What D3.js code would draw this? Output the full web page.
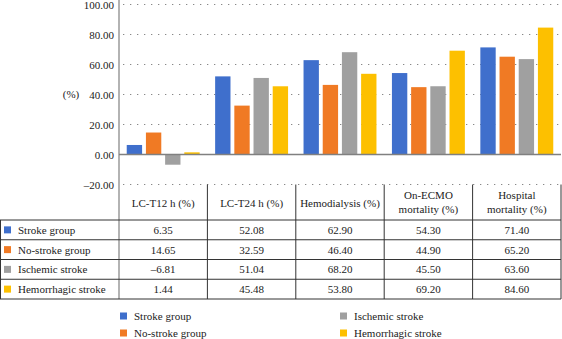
<!DOCTYPE html>
<html><head><meta charset="utf-8">
<script src="https://cdn.jsdelivr.net/npm/d3@7"></script>
<style>body{margin:0;background:#fff}svg{display:block}</style>
</head><body><svg id="c" width="562" height="339"></svg>
<script>
const categories = ["LC-T12 h (%)", "LC-T24 h (%)", "Hemodialysis (%)", "On-ECMO mortality (%)", "Hospital mortality (%)"];
const headerLines = [["LC-T12 h (%)"], ["LC-T24 h (%)"], ["Hemodialysis (%)"], ["On-ECMO", "mortality (%)"], ["Hospital", "mortality (%)"]];
const seriesNames = ["Stroke group", "No-stroke group", "Ischemic stroke", "Hemorrhagic stroke"];
const strokeGroup = [6.35, 52.08, 62.90, 54.30, 71.40];
const noStrokeGroup = [14.65, 32.59, 46.40, 44.90, 65.20];
const ischemicStroke = [-6.81, 51.04, 68.20, 45.50, 63.60];
const hemorrhagicStroke = [1.44, 45.48, 53.80, 69.20, 84.60];
const tableLabels = [["6.35","14.65","–6.81","1.44"],["52.08","32.59","51.04","45.48"],["62.90","46.40","68.20","53.80"],["54.30","44.90","45.50","69.20"],["71.40","65.20","63.60","84.60"]];
const yTicks = [-20, 0, 20, 40, 60, 80, 100];
const colors = ["#3f6fcc", "#f07a24", "#a0a0a0", "#fdc000"];
const seriesValues = [strokeGroup, noStrokeGroup, ischemicStroke, hemorrhagicStroke];

const FONT = "Liberation Serif, DejaVu Serif, Times, serif";
const FS = 11;
const svg = d3.select("#c").style("font-family", FONT);
const L = 119, R = 561;
const y = d3.scaleLinear().domain([-20, 100]).range([184.5, 4.5]);
const x0 = d3.scaleBand().domain(categories).range([L, R]).paddingInner(0.175).paddingOuter(0.0875);
const x1 = d3.scaleBand().domain(seriesNames).range([0, x0.bandwidth()]).paddingInner(0.2);
const xc = d3.scaleBand().domain(categories).range([L, R]);

svg.append("g").selectAll("line").data(yTicks.filter(d => d !== 0)).join("line")
  .attr("x1", L + 4).attr("x2", R).attr("y1", d => y(d)).attr("y2", d => y(d))
  .attr("stroke", "#888").attr("stroke-width", 1.2).attr("stroke-dasharray", "1.3,5.7");

const ya = svg.append("g").attr("transform", `translate(${L},0)`)
  .call(d3.axisLeft(y).tickValues(yTicks).tickFormat(d => (d < 0 ? "–" + d3.format(".2f")(-d) : d3.format(".2f")(d))).tickSize(0).tickPadding(5));
ya.select(".domain").remove();
ya.attr("font-family", null).attr("font-size", FS);
ya.selectAll("text").attr("fill", "#222").style("font-family", FONT);
svg.append("text").attr("x", 71).attr("y", 98).attr("text-anchor", "middle").style("font-family", FONT).attr("font-size", FS).attr("fill", "#222").text("(%)");

const rows = [];
categories.forEach((c, i) => seriesNames.forEach((s, j) => rows.push({c, s, v: seriesValues[j][i], j})));
svg.append("g").selectAll("rect").data(rows).join("rect")
  .attr("x", d => x0(d.c) + x1(d.s)).attr("width", x1.bandwidth())
  .attr("y", d => y(Math.max(0, d.v))).attr("height", d => Math.abs(y(d.v) - y(0)))
  .attr("fill", d => colors[d.j]);

svg.append("line").attr("x1", L).attr("x2", R).attr("y1", y(0)).attr("y2", y(0)).attr("stroke", "#808080").attr("stroke-width", 1.5);
svg.append("line").attr("x1", L).attr("x2", L).attr("y1", 0).attr("y2", 299).attr("stroke", "#808080").attr("stroke-width", 1.2);

const tTop = y(-20), hBot = 220, rowH = 19.75, tBot = hBot + 4 * rowH;
const tg = svg.append("g").style("font-family", FONT).attr("font-size", FS).attr("fill", "#222");
const lineCol = "#333";
categories.forEach((c, i) => {
  const xx = xc(c) + xc.bandwidth();
  tg.append("line").attr("x1", xx).attr("x2", xx).attr("y1", tTop).attr("y2", tBot).attr("stroke", lineCol).attr("stroke-width", 1);
});
tg.append("line").attr("x1", 0.5).attr("x2", 0.5).attr("y1", hBot).attr("y2", tBot).attr("stroke", lineCol);
for (let r = 0; r <= 4; r++) {
  tg.append("line").attr("x1", 0).attr("x2", R).attr("y1", hBot + r * rowH).attr("y2", hBot + r * rowH).attr("stroke", lineCol).attr("stroke-width", 1);
}
categories.forEach((c, i) => {
  const lines = headerLines[i];
  const cx = xc(c) + xc.bandwidth() / 2;
  const t = tg.append("text").attr("text-anchor", "middle");
  lines.forEach((ln, k) => {
    t.append("tspan").attr("x", cx).attr("y", lines.length === 1 ? 207 : 199 + k * 14).text(ln);
  });
});
seriesNames.forEach((s, j) => {
  const cy = hBot + j * rowH + rowH / 2;
  tg.append("rect").attr("x", 4).attr("y", cy - 3.5).attr("width", 7).attr("height", 7).attr("fill", colors[j]);
  tg.append("text").attr("x", 18).attr("y", cy + 4).text(s);
  categories.forEach((c, i) => {
    tg.append("text").attr("x", xc(c) + xc.bandwidth() / 2).attr("y", cy + 4).attr("text-anchor", "middle").text(tableLabels[i][j]);
  });
});

const legPos = [[120, 316], [120, 333], [340, 316], [340, 333]];
const lg = svg.append("g").style("font-family", FONT).attr("font-size", FS).attr("fill", "#222");
seriesNames.forEach((s, j) => {
  const [lx, ly] = legPos[j];
  lg.append("rect").attr("x", lx).attr("y", ly - 3.5).attr("width", 7).attr("height", 7).attr("fill", colors[j]);
  lg.append("text").attr("x", lx + 14).attr("y", ly + 4).text(s);
});
</script></body></html>
